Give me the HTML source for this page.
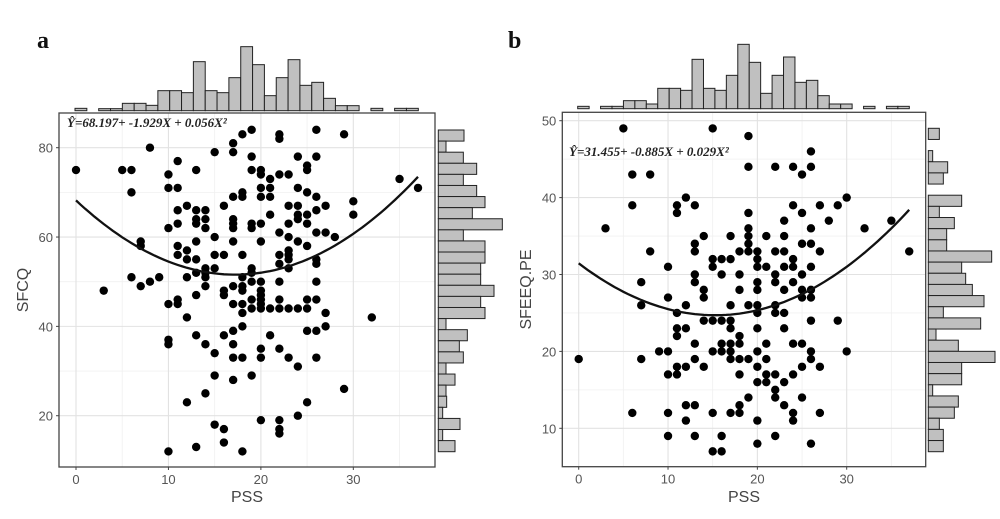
<!DOCTYPE html>
<html><head><meta charset="utf-8"><style>
html,body{margin:0;padding:0;background:#fff;}
svg{display:block;}
</style></head><body>
<svg id="s" width="1000" height="519" xmlns="http://www.w3.org/2000/svg" font-family="Liberation Sans, sans-serif"></svg>
<script>
const S=document.getElementById('s');let h='';
function panel(o){
 const X=v=>o.x0+v*o.kx, Y=v=>o.y0-(v-o.yref)*o.ky;
 h+=`<rect x="${o.bx1}" y="${o.by1}" width="${o.bx2-o.bx1}" height="${o.by2-o.by1}" fill="#fff"/>`;
 for(const v of o.xmin) h+=`<line x1="${X(v)}" x2="${X(v)}" y1="${o.by1}" y2="${o.by2}" stroke="#f0f0f0" stroke-width="0.8"/>`;
 for(const v of o.ymin) h+=`<line y1="${Y(v)}" y2="${Y(v)}" x1="${o.bx1}" x2="${o.bx2}" stroke="#f0f0f0" stroke-width="0.8"/>`;
 for(const v of o.xt) h+=`<line x1="${X(v)}" x2="${X(v)}" y1="${o.by1}" y2="${o.by2}" stroke="#e2e2e2" stroke-width="1.1"/>`;
 for(const v of o.yt) h+=`<line y1="${Y(v)}" y2="${Y(v)}" x1="${o.bx1}" x2="${o.bx2}" stroke="#e2e2e2" stroke-width="1.1"/>`;
 h+=`<rect x="${o.bx1}" y="${o.by1}" width="${o.bx2-o.bx1}" height="${o.by2-o.by1}" fill="none" stroke="#444" stroke-width="1.3"/>`;
 for(const v of o.xt){h+=`<line x1="${X(v)}" x2="${X(v)}" y1="${o.by2}" y2="${o.by2+3}" stroke="#444"/>`;
  h+=`<text x="${X(v)}" y="${o.by2+17}" font-size="13" fill="#555" text-anchor="middle">${v}</text>`;}
 for(const v of o.yt){h+=`<line x1="${o.bx1-3}" x2="${o.bx1}" y1="${Y(v)}" y2="${Y(v)}" stroke="#444"/>`;
  h+=`<text x="${o.bx1-6}" y="${Y(v)+5}" font-size="13" fill="#555" text-anchor="end">${v}</text>`;}
 h+=`<text x="${(o.bx1+o.bx2)/2}" y="502" font-size="16" fill="#444" text-anchor="middle">PSS</text>`;
 h+=`<text transform="translate(${o.ylx},${(o.by1+o.by2)/2}) rotate(-90)" font-size="16" fill="#444" text-anchor="middle">${o.ylab}</text>`;
 for(const [x,ys] of o.pts) for(const y of ys) h+=`<circle cx="${X(x)}" cy="${Y(y)}" r="4.2" fill="#000"/>`;
 let d='';for(let i=0;i<=74;i++){const x=i/2;const y=o.c[0]+o.c[1]*x+o.c[2]*x*x;d+=(i?'L':'M')+X(x).toFixed(1)+','+Y(y).toFixed(1);}
 h+=`<path d="${d}" fill="none" stroke="#111" stroke-width="2.3"/>`;
 h+=`<text x="${o.eq[0]}" y="${o.eq[1]}" font-family="Liberation Serif, serif" font-style="italic" font-weight="bold" font-size="13" fill="#222">Ŷ=${o.eqt}</text>`;
 const tw=(o.th.end-o.th.start)/o.th.v.length;
 o.th.v.forEach((t,i)=>{if(t>=o.th.base-0.5)return;const x=o.th.start+i*tw;
  h+=`<rect x="${x}" y="${t}" width="${tw}" height="${o.th.base-t}" fill="#c0c0c0" stroke="#222" stroke-width="1"/>`;});
 const rw=(o.rh.end-o.rh.start)/o.rh.v.length;
 o.rh.v.forEach((r,i)=>{if(r<=o.rh.base+0.5)return;const y=o.rh.start+i*rw;
  h+=`<rect x="${o.rh.base}" y="${y}" width="${r-o.rh.base}" height="${rw}" fill="#c0c0c0" stroke="#222" stroke-width="1"/>`;});
 h+=`<text x="${o.lab[0]}" y="${o.lab[1]}" font-family="Liberation Serif, serif" font-weight="bold" font-size="24" fill="#111">${o.lab[2]}</text>`;
}
const z=a=>a.map(v=>v/3), zy=a=>a.map(v=>30+v/3);
panel({x0:76,kx:9.244,yref:80,y0:147.7,ky:4.467,bx1:59,bx2:435,by1:113,by2:467,
 xt:[0,10,20,30],xmin:[5,15,25,35],yt:[20,40,60,80],ymin:[30,50,70],ylab:'SFCQ',ylx:28,
 c:[68.197,-1.929,0.056],eq:[67,127],eqt:'68.197+ -1.929X + 0.056X²',lab:[37,48,'a'],
 pts:[[0,[75]],[3,[48]],[5,[75]],[6,[75,70,51]],[7,[59,58,49]],[8,[80,50]],[9,[51]],
 [10,[74,71,62,45,37,36,12]],[11,[77,71,66,63,58,56,46,45]],[12,[67,57,55,51,42,23]],
 [13,[75,66,64,63,59,55,52,47,38,13]],[14,[66,64,62,53,52,51,49,36,25]],[15,[79,60,56,53,34,29,18]],
 [16,[67,56,48,47,38,17,14]],[17,[81,79,69,64,63,62,59,49,45,39,36,33,28]],[18,[83,70,69,56,51,49,48,45,43,40,33,12]],
 [19,[84,78,75,63,62,53,52,50,46,44,29]],[20,[75,74,71,69,63,59,50,48,47,46,45,44,35,33,19]],[21,[73,71,69,65,44,38]],
 [22,[83,82,74,61,56,54,50,46,44,35,19,17,16]],[23,[74,67,63,60,57,56,55,53,44,33]],[24,[78,71,67,65,64,59,44,31,20]],
 [25,[76,75,70,65,63,58,46,44,39,23]],[26,[84,78,69,66,61,55,54,50,46,39,33]],[27,[67,61,43,40]],[28,[60]],[29,[83,26]],[30,[68,65]],[32,[42]],[35,[73]],[37,[71]]],
 th:{start:75,end:418.3,base:110.7,v:zy([235,242,236,236,220,220,226,182,182,188,95,182,188,143,50,104,197,143,89,166,157,205,227,227,242,235,242,235,235])},
 rh:{start:130,end:451.7,base:438.3,v:z([1392,1338,1390,1430,1390,1430,1455,1417,1507,1390,1455,1455,1442,1442,1482,1442,1455,1338,1402,1378,1390,1338,1365,1338,1340,1328,1380,1328,1365])}
});
panel({x0:578.7,kx:8.933,yref:50,y0:120.7,ky:7.69,bx1:562.3,bx2:925.7,by1:112.3,by2:466.7,
 xt:[0,10,20,30],xmin:[5,15,25,35],yt:[10,20,30,40,50],ymin:[15,25,35,45],ylab:'SFEEQ.PE',ylx:531,
 c:[31.455,-0.885,0.029],eq:[569,156],eqt:'31.455+ -0.885X + 0.029X²',lab:[508,48,'b'],
 pts:[[0,[19]],[3,[36]],[5,[49]],[6,[43,39,12]],[7,[29,26,19]],[8,[43,33]],[9,[20]],
 [10,[31,27,20,17,12,9]],[11,[39,38,25,23,22,18,17]],[12,[40,26,23,18,13,11]],[13,[39,34,33,30,29,21,19,13,9]],
 [14,[35,28,27,24,18]],[15,[49,32,31,24,20,12,7]],[16,[32,30,24,21,20,9,7]],[17,[35,32,26,24,23,21,20,19,12]],
 [18,[33,30,28,22,21,19,17,13,12]],[19,[48,44,38,36,35,34,33,26,19,14]],[20,[33,32,31,29,28,26,25,23,20,18,16,11,8]],
 [21,[35,31,21,19,17,16]],[22,[44,33,30,29,26,25,17,15,14,9]],[23,[37,35,33,31,28,25,23,16,13]],[24,[44,39,32,31,29,21,17,12,11]],
 [25,[43,38,34,30,28,27,21,18,14]],[26,[46,44,36,34,31,28,27,24,20,19,8]],[27,[39,33,18,12]],[28,[37]],[29,[39,24]],[30,[40,20]],[32,[36]],[35,[37]],[37,[33]]],
 th:{start:577.7,end:909.3,base:108.7,v:zy([229,236,229,229,212,212,222,175,175,181,88,175,181,136,43,97,190,136,81,157,151,197,222,222,236,229,236,229,229])},
 rh:{start:128.3,end:451.7,base:928.3,v:z([1318,1285,1298,1343,1330,1285,1385,1318,1363,1340,1340,1475,1385,1397,1417,1452,1330,1442,1308,1375,1485,1385,1385,1298,1375,1363,1318,1330,1330]).map(v=>v+500)}
});
S.innerHTML=h;
</script>
</body></html>
